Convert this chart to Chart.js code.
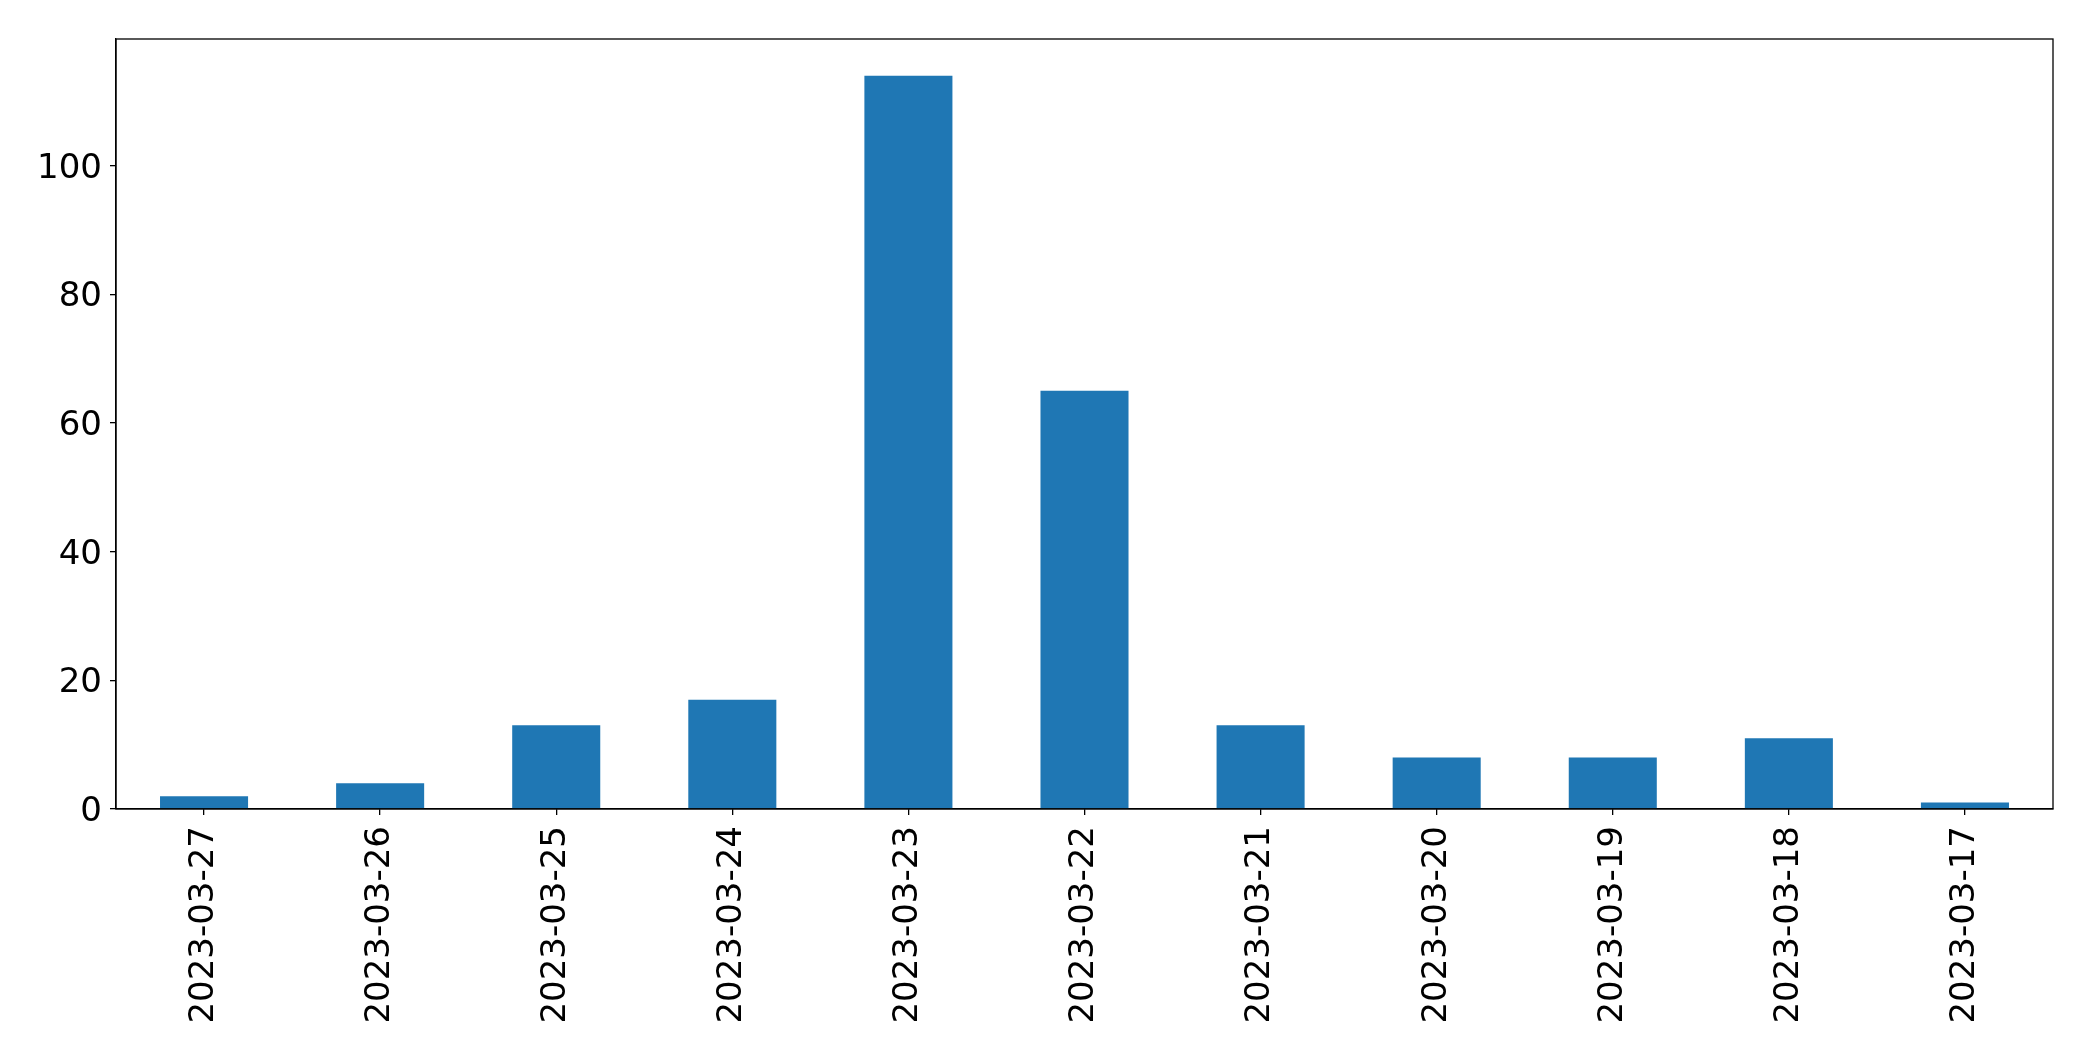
<!DOCTYPE html>
<html>
<head>
<meta charset="utf-8">
<script src="https://cdn.jsdelivr.net/npm/chart.js@4"></script>
<style>
  html, body { margin: 0; padding: 0; background: #fff; }
  #wrap { width: 2093px; height: 1061px; }
</style>
</head>
<body>
<div id="wrap"><canvas id="myChart" width="2093" height="1061"></canvas></div>
<script>
// Tage (neueste zuerst) und Anzahl pro Tag
const dates = [
  "2023-03-27", "2023-03-26", "2023-03-25", "2023-03-24", "2023-03-23",
  "2023-03-22", "2023-03-21", "2023-03-20", "2023-03-19", "2023-03-18", "2023-03-17",
];
const counts = [2, 4, 13, 17, 114, 65, 13, 8, 8, 11, 1];
const yTicks = [0, 20, 40, 60, 80, 100];

// Rahmen oben und rechts wie bei matplotlib
const frame = {
  id: "frame",
  afterDraw(chart) {
    const { ctx, chartArea: a } = chart;
    ctx.save();
    ctx.strokeStyle = "#000";
    ctx.lineWidth = 1.3;
    ctx.strokeRect(a.left, a.top, a.right - a.left, a.bottom - a.top);
    ctx.restore();
  },
};

const font = { family: "'DejaVu Sans'", size: 34 };

new Chart(document.getElementById("myChart"), {
  type: "bar",
  data: {
    labels: dates,
    datasets: [
      {
        data: counts,
        backgroundColor: "#1f77b4",
        barPercentage: 0.5,
        categoryPercentage: 1,
      },
    ],
  },
  options: {
    responsive: false,
    animation: false,
    layout: { padding: { top: 39, right: 40, left: 0, bottom: 0 } },
    plugins: { legend: { display: false }, tooltip: { enabled: false } },
    scales: {
      x: {
        offset: true,
        grid: { display: true, drawOnChartArea: false, drawTicks: true, tickLength: 6, color: "#000", lineWidth: 1.3, offset: false },
        border: { display: true, color: "#000", width: 1.3 },
        ticks: { color: "#000", font: font, minRotation: 90, maxRotation: 90, padding: 11, autoSkip: false },
        afterFit(scale) { scale.height = 1061 - 809; },
      },
      y: {
        min: 0,
        max: Math.max(...counts) * 1.05,
        afterBuildTicks(scale) { scale.ticks = yTicks.map((v) => ({ value: v })); },
        grid: { display: true, drawOnChartArea: false, drawTicks: true, tickLength: 6, color: "#000", lineWidth: 1.3 },
        border: { display: true, color: "#000", width: 1.3 },
        ticks: { color: "#000", font: font, padding: 8, labelOffset: 3 },
        afterFit(scale) { scale.width = 116; },
      },
    },
  },
  plugins: [frame],
});
</script>
</body>
</html>
